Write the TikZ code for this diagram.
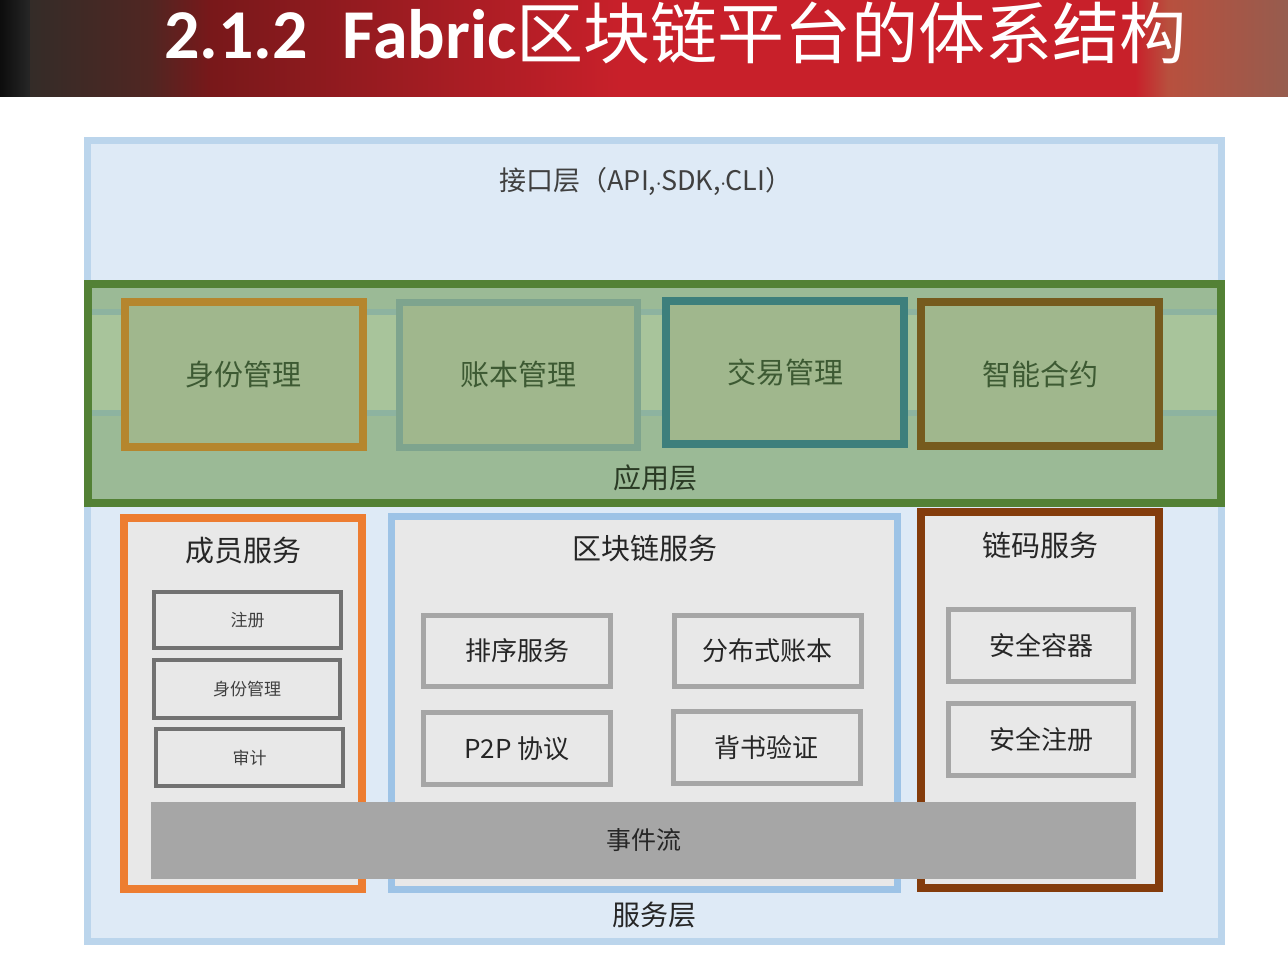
\documentclass[tikz,border=0pt]{standalone}
\usepackage{fontspec}
\setmainfont{Noto Sans CJK SC}
\newfontfamily\titlecjk{Noto Sans CJK SC}
\newfontfamily\titlelat{Carlito}
\newfontfamily\latsans{Noto Sans}
\newcommand\myfs[1]{\fontsize{#1pt}{#1pt}\selectfont}
\definecolor{hdrred}{HTML}{C8202A}
\definecolor{outerfill}{HTML}{DEEAF6}
\definecolor{outerline}{HTML}{BBD5EC}
\definecolor{appline}{HTML}{538135}
\definecolor{appfill}{HTML}{9BBA96}
\definecolor{stripefill}{HTML}{A8C49B}
\definecolor{stripeline}{HTML}{8DB3A0}
\definecolor{boxfill}{HTML}{A0B78D}
\definecolor{ochre}{HTML}{B5862E}
\definecolor{sage}{HTML}{7EA48E}
\definecolor{teal}{HTML}{3D7F7C}
\definecolor{olive}{HTML}{765B1E}
\definecolor{apptext}{HTML}{3D5A33}
\definecolor{apptitle}{HTML}{2A3A24}
\definecolor{svcfill}{HTML}{E8E8E8}
\definecolor{orangeline}{HTML}{ED7D31}
\definecolor{blueline}{HTML}{9DC3E6}
\definecolor{brownline}{HTML}{843C0C}
\definecolor{darkgrayline}{HTML}{717171}
\definecolor{grayline}{HTML}{A6A6A6}
\definecolor{barfill}{HTML}{A6A6A6}
\definecolor{txtdark}{HTML}{262626}
\definecolor{txtgray}{HTML}{404040}
\begin{document}
\begin{tikzpicture}[x=1pt,y=-1pt,
  box/.style={rectangle, inner sep=0pt, outer sep=0pt, align=center},
  appbox/.style={box, fill=boxfill, line width=8pt, minimum width=238pt, minimum height=145pt, text=apptext, font=\myfs{29}},
  svcbox/.style={box, fill=svcfill, line width=8pt, minimum width=238pt},
  memberbox/.style={box, fill=svcfill, draw=darkgrayline, line width=4pt, minimum width=187pt, minimum height=57pt, text=txtgray, font=\myfs{17}},
  innerbox/.style={box, fill=svcfill, draw=grayline, line width=5pt, minimum width=187pt, minimum height=72pt, text=txtdark, font=\myfs{26}},
  lbl/.style={inner sep=0pt, outer sep=0pt}]
\useasboundingbox (0,0) rectangle (1288,960);
\fill[white] (0,0) rectangle (1288,960);
% header band
\fill[hdrred] (0,0) rectangle (1288,97);
\shade[left color=black!95, right color=black!85] (0,0) rectangle (30,97);
\shade[left color={rgb,255:red,52;green,44;blue,40}, right color={rgb,255:red,80;green,38;blue,34}] (30,0) rectangle (150,97);
\shade[left color={rgb,255:red,80;green,38;blue,34}, right color={rgb,255:red,120;green,24;blue,26}] (150,0) rectangle (210,97);
\shade[left color={rgb,255:red,120;green,24;blue,26}, right color=hdrred] (210,0) rectangle (620,97);
\shade[left color=hdrred, right color={rgb,255:red,184;green,80;blue,62}] (1135,0) rectangle (1168,97);
\shade[left color={rgb,255:red,184;green,80;blue,62}, right color={rgb,255:red,150;green,92;blue,78}] (1168,0) rectangle (1288,97);
\node[lbl, anchor=base west, text=white] (title) at (164,59)
  {{\titlelat\bfseries\myfs{70}2.1.2\hspace{0.5em}Fabric}{\titlecjk\myfs{67}区块链平台的体系结构}};
% outer frame
\node[box, draw=outerline, fill=outerfill, line width=7pt, minimum width=1134pt, minimum height=800pt] (outer) at (654,541) {};
\node[lbl, text=txtgray, font=\myfs{27}] (iface) at (646,182) {接口层（API,{\latsans\myfs{18}·}SDK,{\latsans\myfs{18}·}CLI）};
% application layer
\node[box, draw=appline, fill=appfill, line width=8pt, minimum width=1133pt, minimum height=219pt] (app) at (654.5,393.5) {};
\fill[stripefill] (92,315) rectangle (1217,410);
\draw[stripeline, line width=6pt] (92,311.5) -- (1217,311.5);
\draw[stripeline, line width=6pt] (92,413) -- (1217,413);
\node[appbox, draw=ochre] (idm) at (243.5,374.5) {身份管理};
\node[appbox, draw=sage, line width=7pt] (ledm) at (518,374.5) {账本管理};
\node[appbox, draw=teal, minimum height=143pt] (txm) at (785,372.5) {交易管理};
\node[appbox, draw=olive, minimum height=144pt] (sc) at (1040,374) {智能合约};
\node[lbl, text=apptitle, font=\myfs{28}] (applbl) at (655,478) {应用层};
% service layer
\node[svcbox, draw=orangeline, minimum height=371pt] (member) at (243,703.5) {};
\node[svcbox, draw=blueline, line width=7pt, minimum width=506pt, minimum height=373pt] (chain) at (644.5,702.5) {};
\node[svcbox, draw=brownline, minimum height=376pt] (code) at (1040,700) {};
\node[lbl, text=txtdark, font=\myfs{29}] (membert) at (243,551) {成员服务};
\node[lbl, text=txtdark, font=\myfs{29}] (chaint) at (645,548) {区块链服务};
\node[lbl, text=txtdark, font=\myfs{29}] (codet) at (1040,545) {链码服务};
\node[memberbox, minimum height=56pt] (reg) at (247.5,620) {注册};
\node[memberbox, minimum width=186pt, minimum height=58pt] (idsmall) at (247,689) {身份管理};
\node[memberbox] (audit) at (249.5,757.5) {审计};
\node[innerbox, minimum height=71pt] (order) at (517,651) {排序服务};
\node[innerbox, minimum height=71pt] (dledger) at (767.5,651) {分布式账本};
\node[innerbox] (p2p) at (517,748.5) {P2P 协议};
\node[innerbox] (endorse) at (766.5,747.5) {背书验证};
\node[innerbox, minimum width=185pt] (secc) at (1041,645.5) {安全容器};
\node[innerbox, minimum width=185pt] (secr) at (1041,739.5) {安全注册};
\node[box, fill=barfill, minimum width=985pt, minimum height=77pt, text=txtdark, font=\myfs{25}] (bar) at (643.5,840.5) {事件流};
\node[lbl, text=txtdark, font=\myfs{28}] (svclbl) at (654,915) {服务层};
\end{tikzpicture}
\end{document}
